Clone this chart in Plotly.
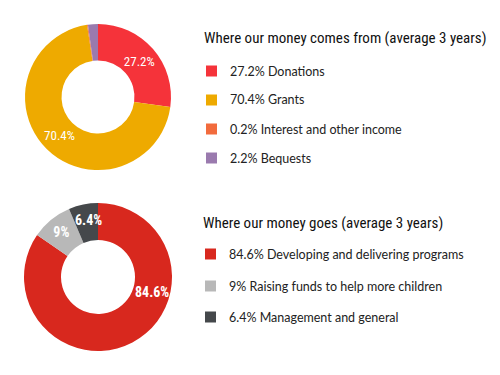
import plotly.graph_objects as go

# ---- data ----
income_labels = ["Donations", "Grants", "Interest and other income", "Bequests"]
income_values = [27.2, 70.4, 0.2, 2.2]
income_text = ["27.2%", "70.4%", "", ""]
income_colors = ["#F5333A", "#EEAA00", "#F26B3D", "#9A7AAE"]
income_title = "Where our money comes from (average 3 years)"

spend_labels = ["Developing and delivering programs", "Raising funds to help more children", "Management and general"]
spend_values = [84.6, 9, 6.4]
spend_text = ["84.6%", "9%", "6.4%"]
spend_colors = ["#D8281E", "#B8B8B8", "#45484B"]
spend_title = "Where our money goes (average 3 years)"

W, H = 500, 375
COND = "Roboto Condensed, Roboto, sans-serif"
BODY = "Lato, Open Sans, sans-serif"

def px(x):
    return x / W

def py(y):
    return 1 - y / H

fig = go.Figure()
fig.add_trace(go.Pie(
    labels=income_labels, values=income_values, text=income_text,
    textinfo="text", textposition="inside", insidetextorientation="horizontal",
    marker=dict(colors=income_colors, line=dict(width=0)),
    hole=0.5, sort=False, direction="clockwise", rotation=0,
    domain=dict(x=[px(25), px(171)], y=[py(170), py(24)]),
    textfont=dict(family=COND, size=13, color="white"),
    showlegend=False, hoverinfo="label+percent",
))
# the largest slice's label sits to the right of the ring, and the small
# slice's label overflows its wedge in the reference, so both are annotations
fig.add_trace(go.Pie(
    labels=spend_labels, values=spend_values, text=["", spend_text[1], ""],
    textinfo="text", textposition="inside", insidetextorientation="horizontal",
    marker=dict(colors=spend_colors, line=dict(width=0)),
    hole=0.5, sort=False, direction="clockwise", rotation=0,
    domain=dict(x=[px(24), px(172)], y=[py(351), py(203)]),
    textfont=dict(family=COND, size=14, color="white", weight="bold"),
    showlegend=False, hoverinfo="label+percent",
))

annotations = [
    dict(x=px(152), y=py(292), xref="paper", yref="paper", xanchor="center", yanchor="middle",
         showarrow=False, text=spend_text[0],
         font=dict(family=COND, size=14, color="white", weight="bold")),
    dict(x=px(88), y=py(220), xref="paper", yref="paper", xanchor="center", yanchor="middle",
         showarrow=False, text=spend_text[2],
         font=dict(family=COND, size=14, color="white", weight="bold")),
]
shapes = []

def legend_block(title, title_y, labels, values, colors, rows_y, sw_x, tx_x):
    annotations.append(dict(
        x=px(sw_x - 4), y=py(title_y), xref="paper", yref="paper",
        xanchor="left", yanchor="middle", showarrow=False, text=title,
        font=dict(family=COND, size=15, color="#111111"),
    ))
    for lab, val, col, ry in zip(labels, values, colors, rows_y):
        shapes.append(dict(
            type="rect", xref="paper", yref="paper",
            x0=px(sw_x), x1=px(sw_x + 11), y0=py(ry + 5.5), y1=py(ry - 5.5),
            fillcolor=col, line=dict(width=0),
        ))
        annotations.append(dict(
            x=px(tx_x), y=py(ry), xref="paper", yref="paper",
            xanchor="left", yanchor="middle", showarrow=False,
            text=f"{val:g}% {lab}",
            font=dict(family=BODY, size=12.5, color="#222222"),
        ))

legend_block(income_title, 38, income_labels, income_values, income_colors,
             [71, 100, 129, 158], 206, 228)
legend_block(spend_title, 223, spend_labels, spend_values, spend_colors,
             [254, 286, 317], 205, 227)

fig.update_layout(
    width=W, height=H, margin=dict(l=0, r=0, t=0, b=0),
    paper_bgcolor="white", plot_bgcolor="white",
    annotations=annotations, shapes=shapes,
)

fig.write_html("out.html", config={"displayModeBar": False},
               post_script="document.body.style.margin='0';")
